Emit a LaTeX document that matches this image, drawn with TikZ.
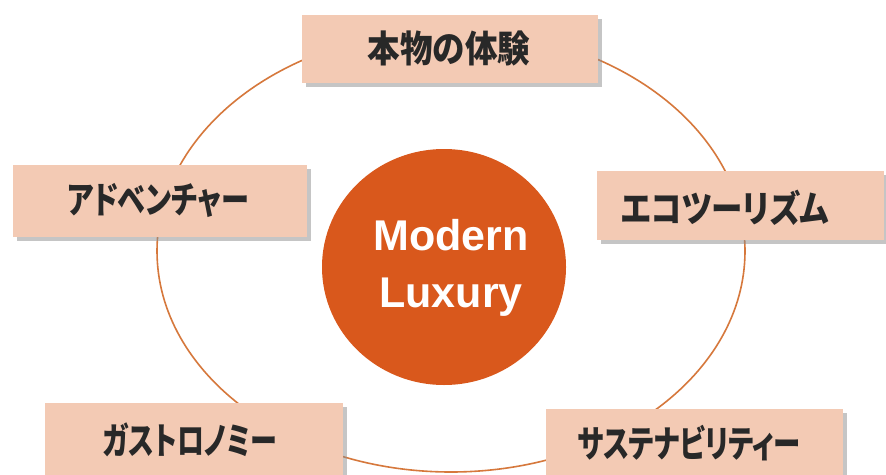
\documentclass[tikz,border=0pt]{standalone}
\usepackage{fontspec}
\setmainfont{Liberation Sans}
\newfontfamily\cjk{Noto Sans CJK JP}[RawFeature=+palt]
\usetikzlibrary{shadows,shapes.geometric}
\definecolor{boxfill}{RGB}{243,202,180}
\definecolor{ringcol}{RGB}{214,120,60}
\definecolor{corefill}{RGB}{217,88,28}
\definecolor{txtcol}{RGB}{40,40,40}
\tikzset{
  labelbox/.style={fill=boxfill, draw=none, rectangle, inner sep=0pt,
    drop shadow={shadow xshift=4pt, shadow yshift=-4pt, fill=black!45, opacity=.5}},
  labeltext/.style={text=txtcol, inner sep=0pt, font=\cjk\bfseries\fontsize{37}{42}\selectfont},
  core/.style={ellipse, fill=corefill, draw=none},
  coretext/.style={text=white, align=center, font=\bfseries\fontsize{43}{57}\selectfont},
  ring/.style={draw=ringcol, line width=1.6pt}
}
\newcommand{\sx}[2]{\scalebox{#1}[1]{#2}}
\begin{document}
\begin{tikzpicture}[x=1pt,y=-1pt]
\useasboundingbox (0,0) rectangle (886,474);
\clip (0,0) rectangle (886,474);
\fill[white] (0,0) rectangle (886,474);
% ring
\draw[ring] (451,251) ellipse [x radius=294, y radius=221];
% central circle
\node[core, minimum width=244pt, minimum height=236pt] (core) at (444,267) {};
\node[coretext] (corelabel) at (451,268) {Modern\\Luxury};
% boxes
\node[labelbox, minimum width=296pt, minimum height=68pt] (top) at (450,49) {};
\node[labeltext] (toptext) at (449,48) {\sx{0.88}{本物の体験}};
\node[labelbox, minimum width=294pt, minimum height=72pt] (left) at (160,201) {};
\node[labeltext] (lefttext) at (158,200) {\sx{0.76}{アドベンチャー}};
\node[labelbox, minimum width=287pt, minimum height=69pt] (right) at (740,205) {};
\node[labeltext] (righttext) at (725,208) {\sx{0.85}{エコツーリズム}};
\node[labelbox, minimum width=298pt, minimum height=90pt] (bl) at (194,448) {};
\node[labeltext] (bltext) at (190,440) {\sx{0.73}{ガストロノミー}};
\node[labelbox, minimum width=297pt, minimum height=90pt] (br) at (694,454) {};
\node[labeltext] (brtext) at (689,443) {\sx{0.74}{サステナビリティー}};
\end{tikzpicture}
\end{document}
